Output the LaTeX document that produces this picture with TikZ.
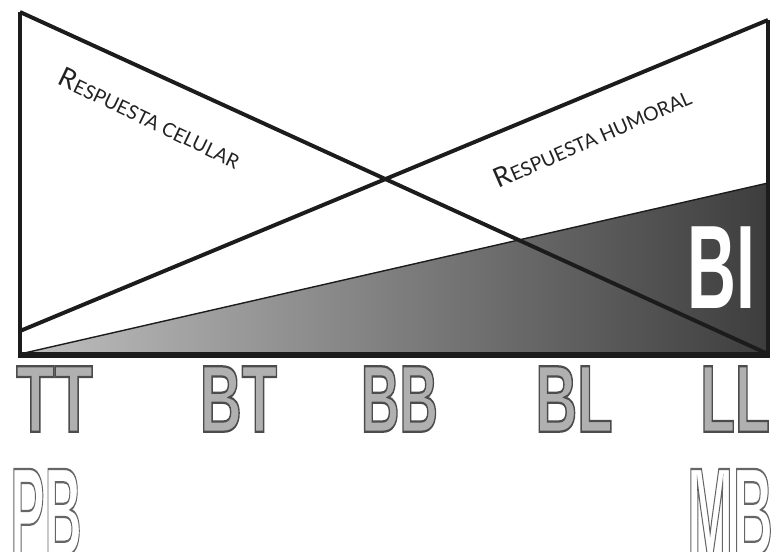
\documentclass[tikz,border=0pt]{standalone}
\usepackage{fontspec}
\newfontfamily\tagfont{Liberation Sans}
\newfontfamily\capfont{Lato}
\definecolor{lineDark}{HTML}{1C1C1C}
\definecolor{tagFill}{HTML}{B0B0B0}
\definecolor{labelInk}{HTML}{222222}
% fill colour, grey level of the edge, text
\newcommand{\edged}[3]{\textcolor{#1}{\special{pdf:literal 2 Tr 1.6 w #2 G}#3\special{pdf:literal 0 Tr}}}
\newcommand{\fakesc}[2]{{\fontsize{19.2}{19}\selectfont #1}{\fontsize{13.8}{14}\selectfont #2}}

\begin{document}
\begin{tikzpicture}[x=0.025cm, y=-0.025cm,
    heavy/.style={line width=2.8pt, draw=lineDark},
    rowtag/.style={font=\tagfont\bfseries\fontsize{67.6}{68}\selectfont, inner sep=0pt},
    bigtag/.style={font=\tagfont\bfseries\fontsize{89}{89}\selectfont, inner sep=0pt},
    slanted/.style={font=\capfont, text=labelInk, inner sep=0pt}]
    \useasboundingbox (0,0) rectangle (776,552);
    % corners of the frame
    \coordinate (tl) at (20,12);
    \coordinate (tr) at (768,20);
    \coordinate (bl) at (20,354);
    \coordinate (br) at (768,354);
    \coordinate (lm) at (20,331);
    \coordinate (rm) at (768,183);
    % shaded wedge
    \shade[left color=black!25, middle color=black!55, right color=black!76] (bl) -- (rm) -- (br) -- cycle;
    \draw[line width=1pt, lineDark] (bl) -- (rm);
    % frame and crossing lines
    \draw[heavy] (tl) -- (bl);
    \draw[heavy] (tr) -- (br);
    \draw[heavy] (tl) -- (br);
    \draw[heavy] (lm) -- (tr);
    \draw[line width=3.6pt, lineDark] (18,355) -- (770,355);
    % labels
    \node[slanted, rotate=-25.6] (cel) at (150,118) {\fakesc{R}{ESPUESTA CELULAR}};
    \node[slanted, rotate=23.6] (hum) at (592,137) {\fakesc{R}{ESPUESTA HUMORAL}};
    \node[font=\tagfont\bfseries\fontsize{84.5}{85}\selectfont, inner sep=0pt, xscale=0.57, text=white] (bi) at (721,268) {BI};
    % cell types along the axis
    \node[rowtag, xscale=0.66] (tt) at (54.5,399) {\edged{tagFill}{0.3}{TT}};
    \node[rowtag, xscale=0.61] (bt) at (238.5,399) {\edged{tagFill}{0.3}{BT}};
    \node[rowtag, xscale=0.56] (bb) at (399.5,399) {\edged{tagFill}{0.3}{BB}};
    \node[rowtag, xscale=0.61] (blt) at (574,399) {\edged{tagFill}{0.3}{BL}};
    \node[rowtag, xscale=0.6] (ll) at (735,399) {\edged{tagFill}{0.3}{LL}};
    \node[bigtag, xscale=0.41] (pb) at (46,512) {\edged{white}{0.4}{PB}};
    \node[bigtag, xscale=0.44] (mb) at (730,512) {\edged{white}{0.4}{MB}};
\end{tikzpicture}
\end{document}
